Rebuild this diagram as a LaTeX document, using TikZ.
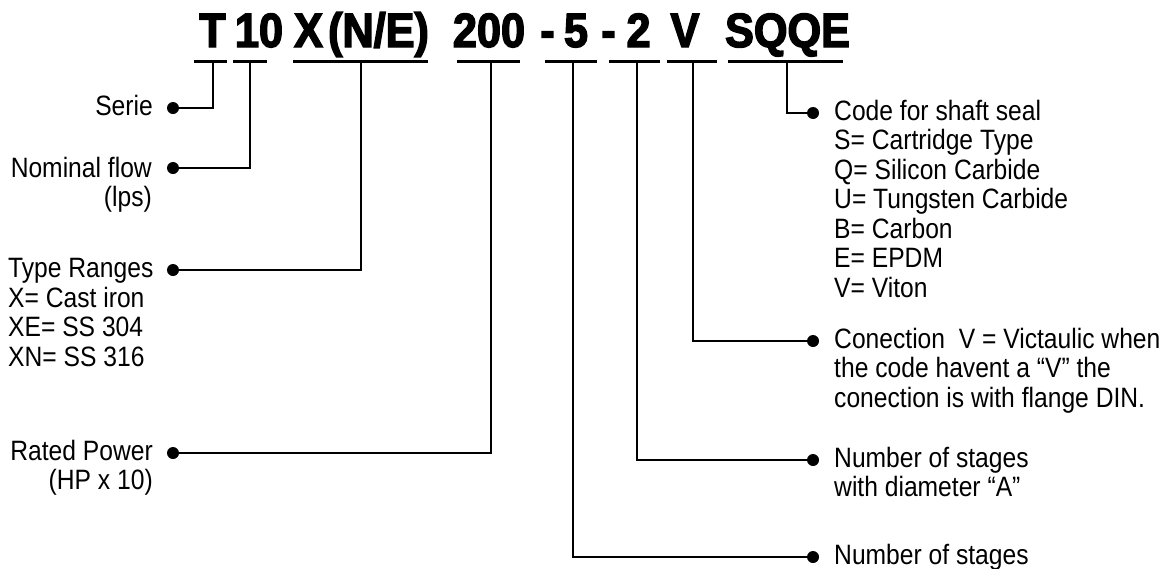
\documentclass[tikz,border=0pt]{standalone}
\usepackage{fontspec}
\setmainfont{Liberation Sans}[FakeStretch=0.88]
\newfontfamily\titlefont{Liberation Sans Bold}[FakeStretch=0.9,FakeBold=3]
\begin{document}
\begin{tikzpicture}[x=1pt,y=-1pt,
  lbl/.style={font=\fontsize{28}{29.5}\selectfont, inner sep=0pt},
  tok/.style={font=\titlefont\fontsize{48}{48}\selectfont, inner sep=0pt, anchor=base},
  uline/.style={line width=3pt},
  conn/.style={line width=2.6pt, line join=miter},
  dotc/.style={circle, fill=black, inner sep=0pt, minimum size=12pt}]
\useasboundingbox (0,0) rectangle (1164,568);

% title tokens
\node[tok] (kT)   at (212.5,47) {T};
\node[tok] (k10)  at (259,47) {10};
\node[tok] (kX)   at (308.5,47) {X};
\node[tok] (kNE)  at (378.5,47) {(N/E)};
\node[tok] (k200) at (489,47) {200};
\node[tok] (kh1)  at (547.5,47) {-};
\node[tok] (k5)   at (576,47) {5};
\node[tok] (kh2)  at (608.5,47) {-};
\node[tok] (k2)   at (638.5,47) {2};
\node[tok] (kV)   at (685,47) {V};
\node[tok] (kSQ)  at (787.5,47) {SQQE};

% underlines
\coordinate (aT1) at (194,61);  \coordinate (aT2) at (227,61);
\coordinate (a101) at (233,61); \coordinate (a102) at (267,61);
\coordinate (aX1) at (293,61);  \coordinate (aX2) at (428,61);
\coordinate (a2001) at (457,61); \coordinate (a2002) at (520,61);
\coordinate (a51) at (545,61);  \coordinate (a52) at (597,61);
\coordinate (a21) at (609,61);  \coordinate (a22) at (660,61);
\coordinate (aV1) at (667,61);  \coordinate (aV2) at (717,61);
\coordinate (aS1) at (728,61);  \coordinate (aS2) at (843,61);
\foreach \p in {T,10,X,200,5,2,V,S}{\draw[uline] (a\p1) -- (a\p2);}

% tick points
\coordinate (tT) at (213,61);
\coordinate (t10) at (250,61);
\coordinate (tX) at (361,61);
\coordinate (t200) at (491,61);
\coordinate (t5) at (573,61);
\coordinate (t2) at (637,61);
\coordinate (tV) at (693,61);
\coordinate (tS) at (787,61);

% dots
\node[dotc] (dSerie) at (173,108) {};
\node[dotc] (dNom) at (173,168) {};
\node[dotc] (dType) at (173,270) {};
\node[dotc] (dRated) at (173,453) {};
\node[dotc] (dCode) at (813,113) {};
\node[dotc] (dCon) at (813,341) {};
\node[dotc] (dNumA) at (813,460) {};
\node[dotc] (dNum) at (813,557) {};

% connectors
\draw[conn] (tT) |- (dSerie);
\draw[conn] (t10) |- (dNom);
\draw[conn] (tX) |- (dType);
\draw[conn] (t200) |- (dRated);
\draw[conn] (t5) |- (dNum);
\draw[conn] (t2) |- (dNumA);
\draw[conn] (tV) |- (dCon);
\draw[conn] (tS) |- (dCode);

% left labels (base anchor = baseline of last line)
\node[lbl, anchor=base east] (lSerie) at (153,115) {Serie};
\node[lbl, anchor=base east, align=right] (lNom) at (152,206.5) {Nominal flow\\(lps)};
\node[lbl, anchor=base west, align=left] (lType) at (8,366) {Type Ranges\\X= Cast iron\\XE= SS 304\\XN= SS 316};
\node[lbl, anchor=base east, align=right] (lRated) at (153,489.5) {Rated Power\\(HP x 10)};

% right labels
\node[lbl, anchor=base west, align=left] (lCode) at (834,297) {Code for shaft seal\\S= Cartridge Type\\Q= Silicon Carbide\\U= Tungsten Carbide\\B= Carbon\\E= EPDM\\V= Viton};
\node[lbl, anchor=base west, align=left] (lCon) at (834,407) {Conection\ \ V = Victaulic when\\the code havent a “V” the\\conection is with flange DIN.};
\node[lbl, anchor=base west, align=left] (lNumA) at (834,496.5) {Number of stages\\with diameter “A”};
\node[lbl, anchor=base west] (lNum) at (834,564) {Number of stages};
\end{tikzpicture}
\end{document}
